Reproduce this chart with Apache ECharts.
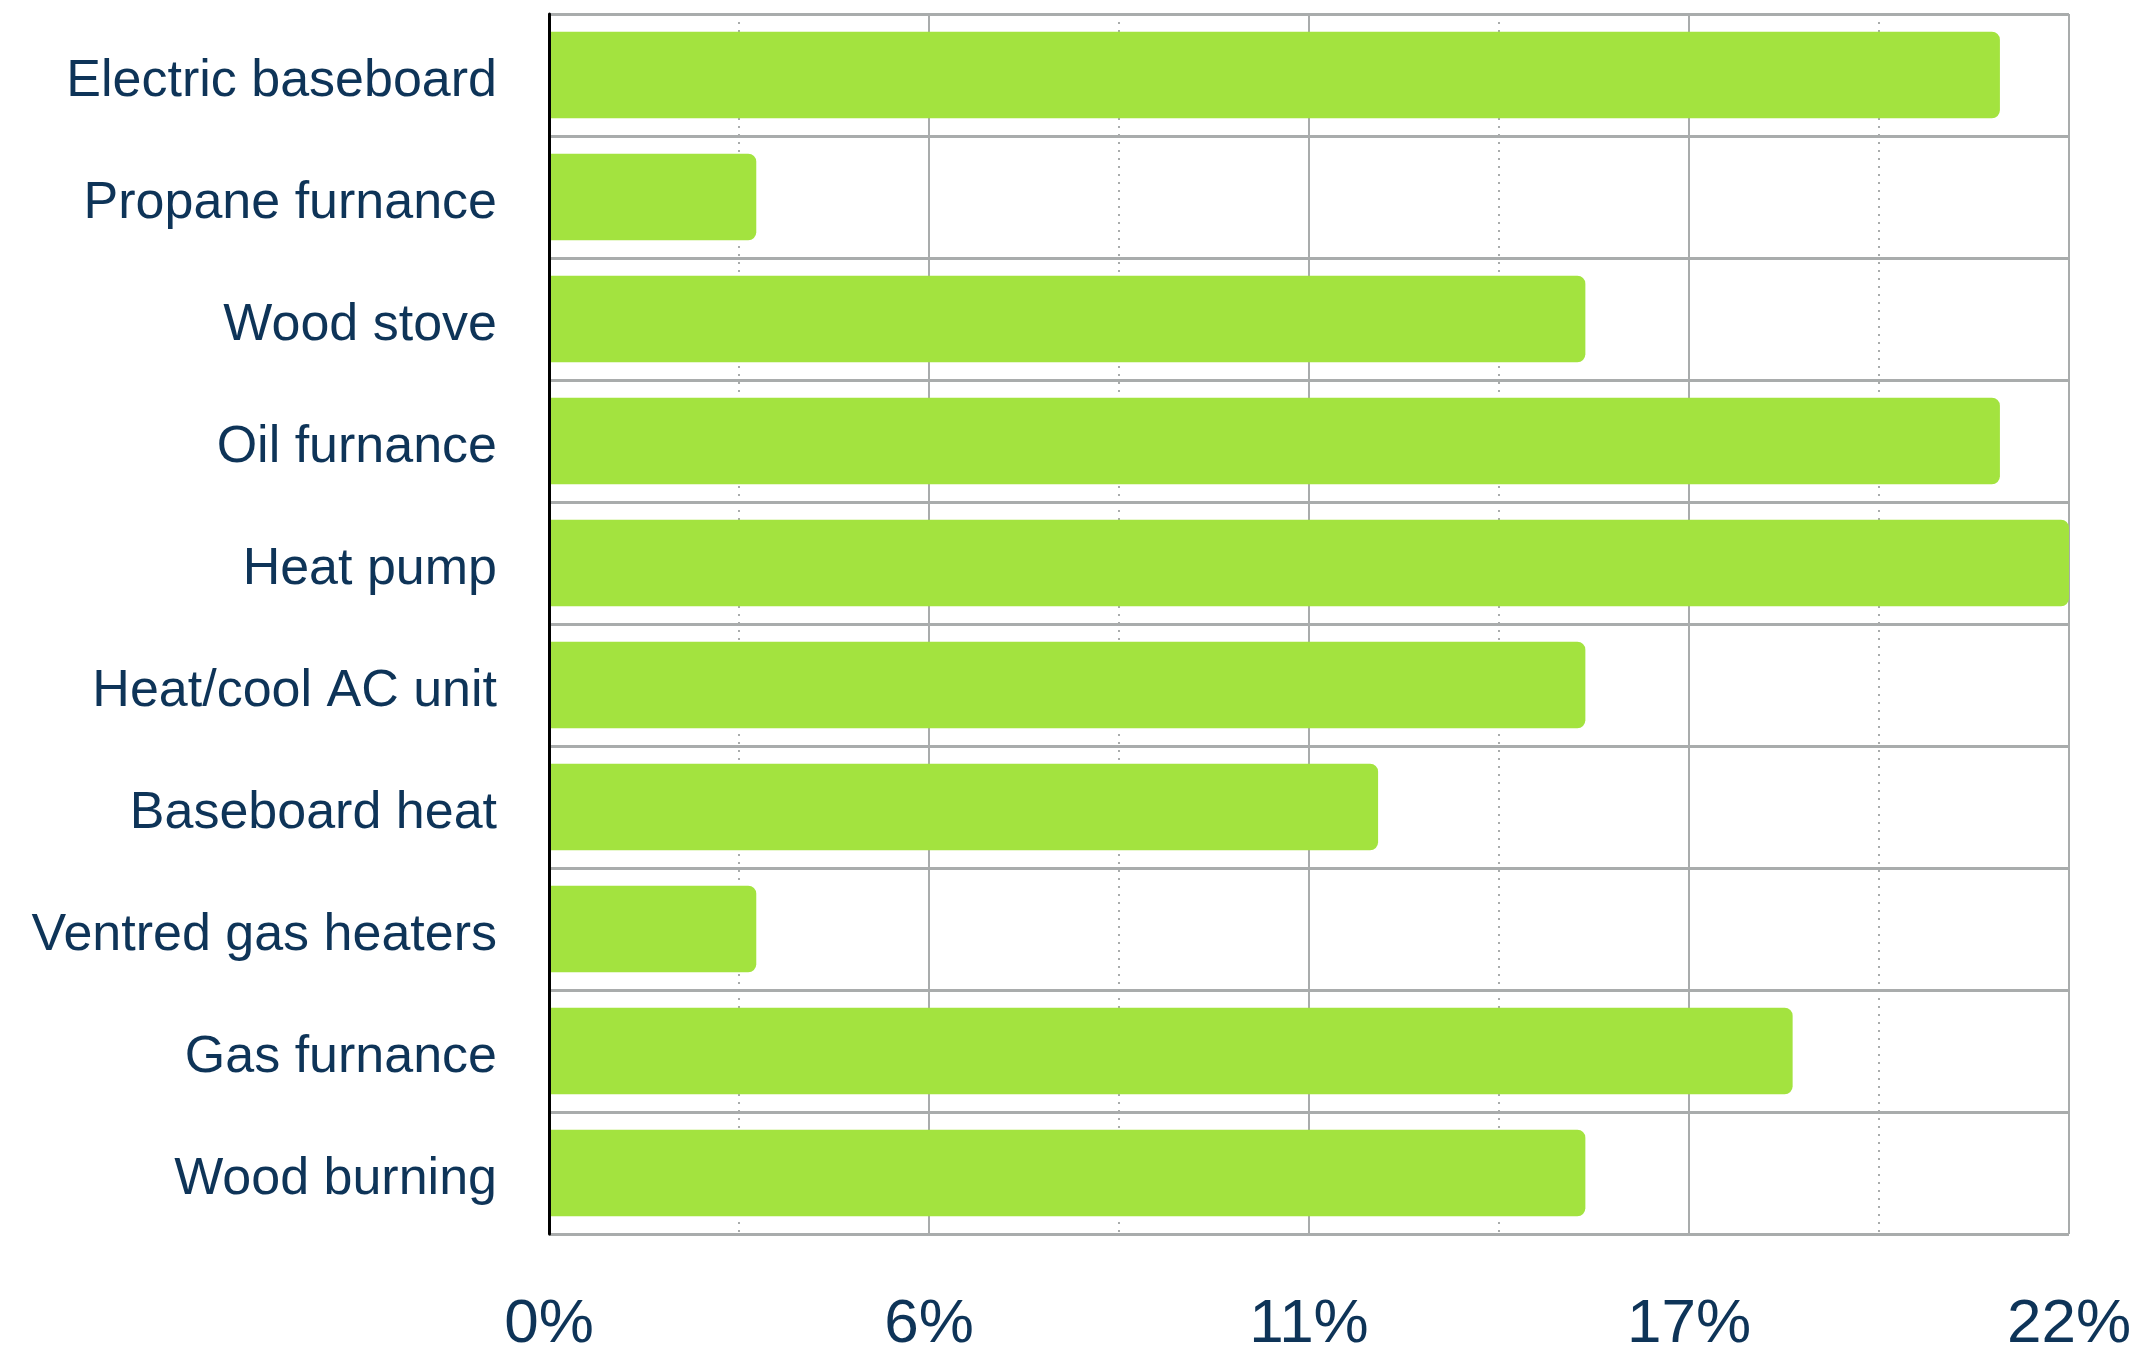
<!DOCTYPE html>
<html>
<head>
<meta charset="utf-8">
<style>
  html, body { margin: 0; padding: 0; background: #ffffff; }
  #chart { width: 2146px; height: 1352px; }
</style>
<script src="https://cdn.jsdelivr.net/npm/echarts@6/dist/echarts.min.js"></script>
</head>
<body>
<div id="chart"></div>
<script>
const categories = ['Electric baseboard', 'Propane furnance', 'Wood stove', 'Oil furnance', 'Heat pump',
  'Heat/cool AC unit', 'Baseboard heat', 'Ventred gas heaters', 'Gas furnance', 'Wood burning'];
const values = [21, 3, 15, 21, 22, 15, 12, 3, 18, 15];
const axisMin = 0;
const axisMax = 22;
const axisInterval = 5.5;

const textColor = '#0e3458';
const gridColor = '#a9acac';
const fontFamily = '"Liberation Sans", Arial, sans-serif';

const chart = echarts.init(document.getElementById('chart'), null, { renderer: 'canvas' });
chart.setOption({
  backgroundColor: '#ffffff',
  animation: false,
  grid: { left: 549, right: 77, top: 14, bottom: 118, containLabel: false, outerBoundsMode: 'none' },
  xAxis: {
    type: 'value',
    min: axisMin,
    max: axisMax,
    interval: axisInterval,
    axisLine: { show: false },
    axisTick: { show: false },
    axisLabel: {
      color: textColor, fontSize: 62, fontFamily: fontFamily, margin: 60,
      formatter: v => Math.round(v) + '%'
    },
    splitLine: { show: true, lineStyle: { color: gridColor, width: 2 } },
    minorTick: { show: false, splitNumber: 2 },
    minorSplitLine: { show: true, lineStyle: { color: gridColor, width: 2, type: [2, 6] } }
  },
  yAxis: [{
    type: 'category',
    data: categories,
    inverse: true,
    position: 'left',
    axisLine: { show: false },
    axisTick: { show: false },
    axisLabel: {
      margin: 52,
      formatter: v => '{a|' + v + '}',
      rich: { a: { color: textColor, fontSize: 52, fontFamily: fontFamily, padding: [14, 0, 0, 0] } }
    },
    splitLine: { show: true, interval: 0, lineStyle: { color: gridColor, width: 3 } }
  }, {
    type: 'category',
    data: categories,
    inverse: true,
    position: 'left',
    offset: 0,
    z: 10,
    axisLine: { show: true, lineStyle: { color: '#000000', width: 3 } },
    axisTick: { show: false },
    axisLabel: { show: false },
    splitLine: { show: false }
  }],
  series: [{
    type: 'bar',
    data: values,
    yAxisIndex: 0,
    barWidth: '71%',
    itemStyle: { color: '#a3e33f', borderRadius: [0, 8, 8, 0] }
  }]
});
</script>
</body>
</html>
